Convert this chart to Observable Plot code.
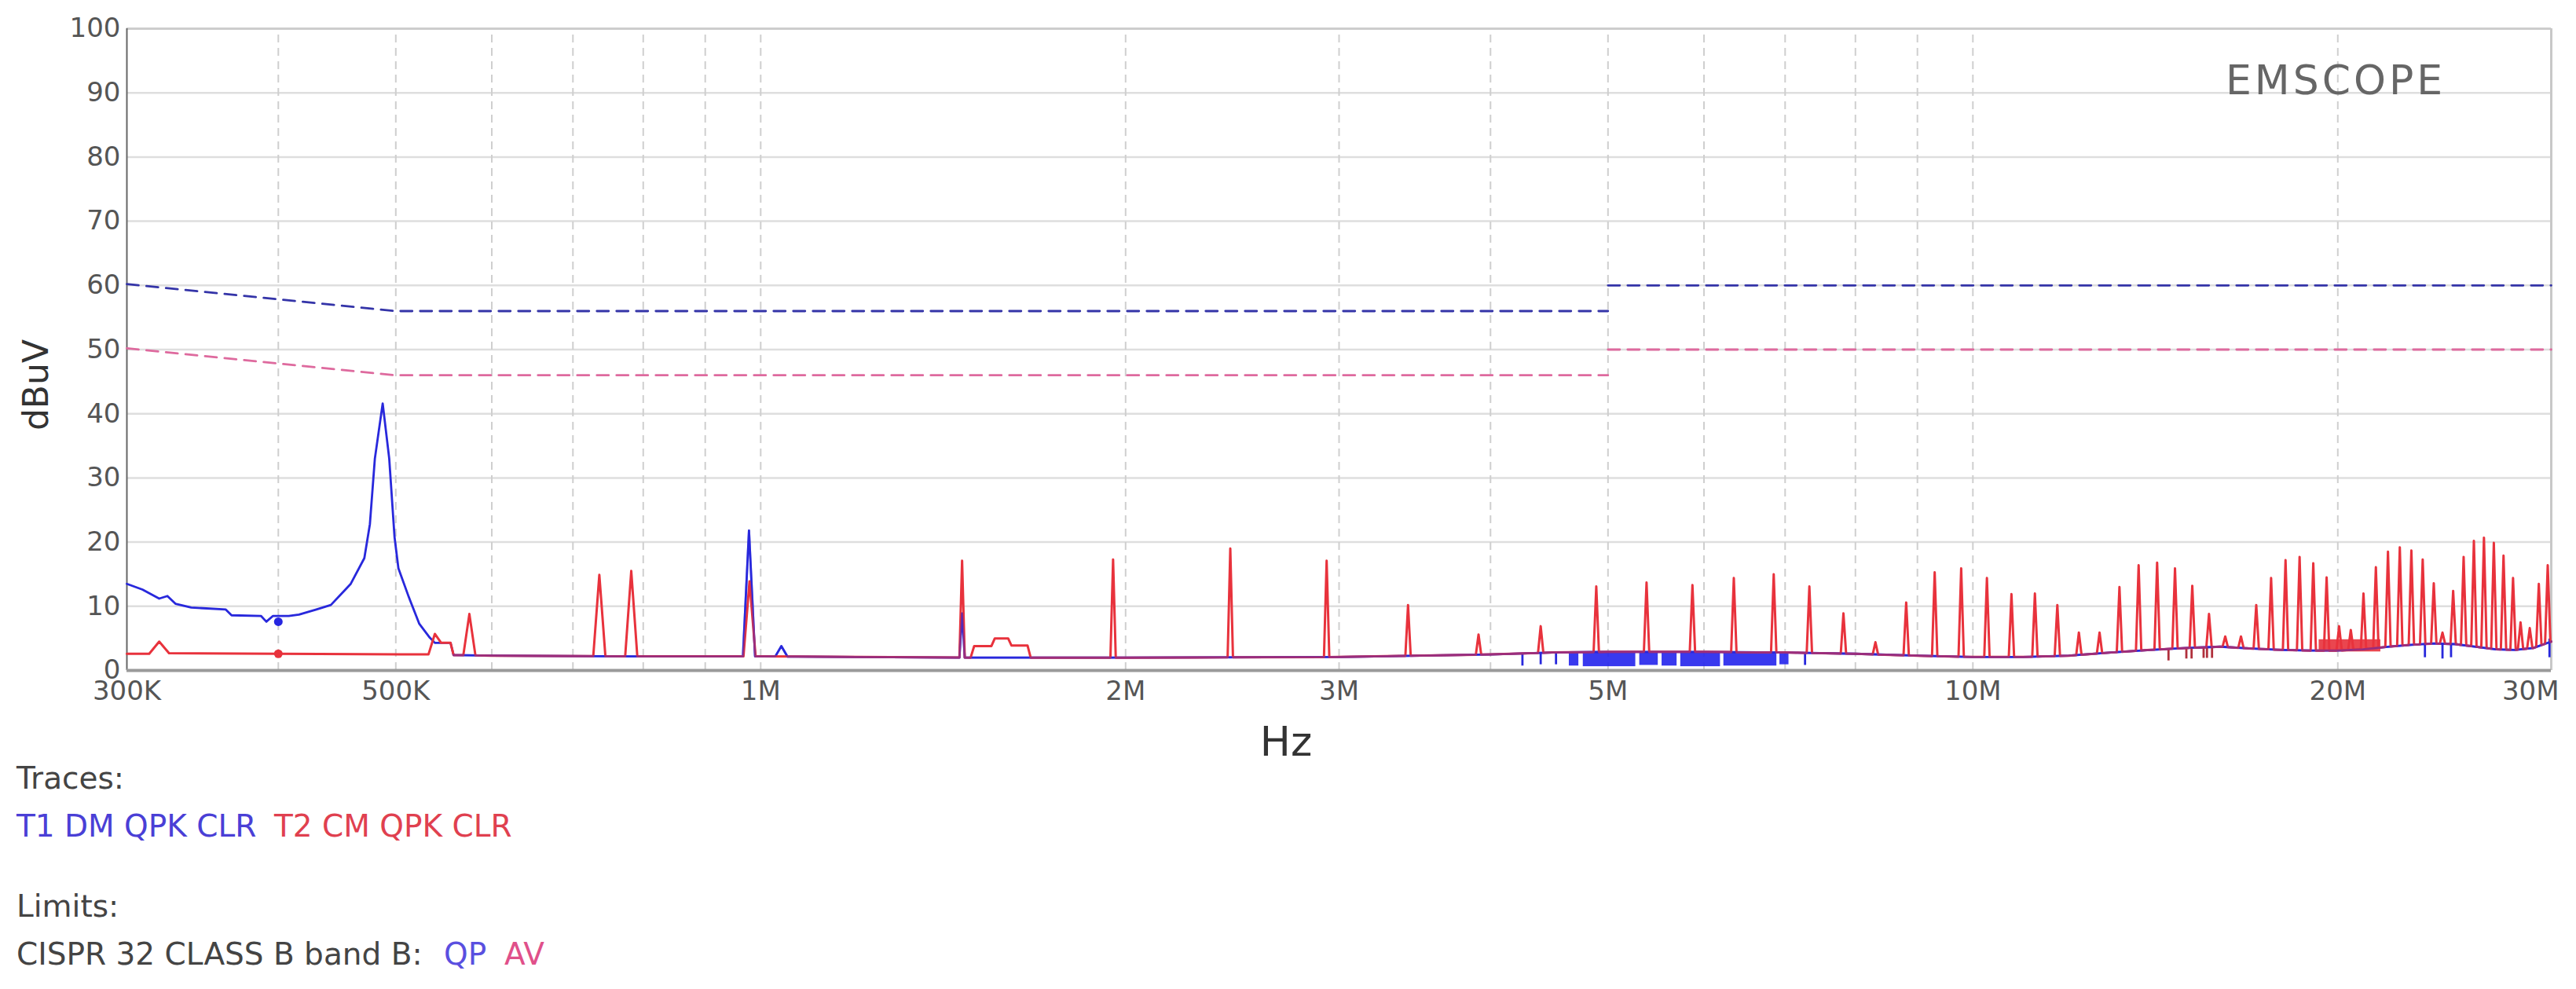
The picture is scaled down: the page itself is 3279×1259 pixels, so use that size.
<!DOCTYPE html>
<html><head><meta charset="utf-8">
<script src="https://cdn.jsdelivr.net/npm/d3@7"></script>
<script src="https://cdn.jsdelivr.net/npm/@observablehq/plot@0.6"></script>
<style>
body{margin:0;background:#fff;font-family:"DejaVu Sans",sans-serif;}
#wrap{position:relative;width:3279px;height:1259px;overflow:hidden;background:#fff;}
.t{position:absolute;white-space:nowrap;line-height:1;}
</style></head><body><div id="wrap"></div>
<script>
// ---------- axis ticks (frequency in MHz) ----------
const xTickValues = [0.3,0.5,0.7,1,2,3,5,7,10,20,30];
const xTickLabels = ["300K","500K","700K","1M","2M","3M","5M","7M","10M","20M","30M"];
const xGridValues = [0.4,0.5,0.6,0.7,0.8,0.9,1,2,3,4,5,6,7,8,9,10,20];
const yTickValues = [0,10,20,30,40,50,60,70,80,90,100];

// ---------- limits: CISPR 32 class B (segment id splits the step at 5 MHz) ----------
const qpFreq  = [0.3, 0.5, 5, 5, 30];
const qpLevel = [60.2, 56, 56, 60, 60];
const qpSeg   = [0, 0, 0, 1, 1];
const avFreq  = [0.3, 0.5, 5, 5, 30];
const avLevel = [50.2, 46, 46, 50, 50];
const avSeg   = [0, 0, 0, 1, 1];

// ---------- common noise floor (both traces) ----------
const baseFreq  = [0.558,0.6,0.8,1.0,1.2,1.5,2.0,3.0,4.0,4.5,5,6,7,8,9,10,11,12,13,14,15,16,17,18,19,20,21,22,23,24,25,26,27,28,29,30];
const baseLevel = [2.4,2.3,2.2,2.2,2.1,2.0,2.0,2.1,2.5,2.8,2.9,2.9,2.8,2.6,2.3,2.1,2.1,2.3,2.8,3.2,3.5,3.7,3.4,3.2,3.1,3.1,3.3,3.7,4.0,4.2,4.1,3.7,3.3,3.2,3.5,4.5];

// ---------- T1 DM QPK CLR (blue) ----------
const t1StartFreq  = [0.300,0.309,0.319,0.324,0.329,0.339,0.362,0.366,0.387,0.391,0.396,0.408,0.416,0.430,0.442,0.459,0.471,0.476,0.4805,0.4877,0.4938,0.4988,0.5025,0.5126,0.5227,0.5334,0.5385,0.5548];
const t1StartLevel = [13.5,12.6,11.2,11.6,10.4,9.8,9.5,8.6,8.5,7.6,8.5,8.5,8.7,9.5,10.2,13.5,17.5,22.8,33.0,41.6,33.0,20.8,15.9,11.4,7.3,5.1,4.3,4.3];
const t1SpikeFreq  = [0.978, 1.04, 1.466];
const t1SpikeLevel = [21.8, 3.8, 8.9];
const blueTickFreq = [4.25, 4.40, 4.53, 7.27, 23.6, 24.4, 24.8, 29.9];
const blueTickLow  = [0.7, 0.9, 0.9, 0.8, 2.0, 1.8, 2.0, 2.0];
const blueTickHigh = [2.7, 2.7, 2.7, 2.8, 4.2, 4.1, 4.1, 4.9];
const blueBandStart = [4.645, 4.77, 5.31, 5.54, 5.74, 6.23, 6.93];
const blueBandEnd   = [4.73, 5.27, 5.50, 5.70, 6.19, 6.89, 7.05];
const blueBandLow   = [0.7, 0.6, 0.8, 0.7, 0.6, 0.7, 0.9];
const blueBandHigh  = [2.8, 2.8, 2.8, 2.8, 2.8, 2.8, 2.8];

// ---------- T2 CM QPK CLR (red) ----------
const t2StartFreq  = [0.300,0.313,0.319,0.325,0.400,0.532,0.5385,0.545,0.5548];
const t2StartLevel = [2.6,2.6,4.5,2.7,2.6,2.5,5.7,4.3,4.3];
const t2StepFreq   = [1.49,1.50,1.55,1.56,1.60,1.61,1.66,1.67];
const t2StepLevel  = [2.0,3.8,3.8,5.0,5.0,3.9,3.9,2.0];
const t2SpikeFreq  = [0.575,0.736,0.782,0.979,1.466,1.953,2.44,2.93,3.42,3.91,4.40,4.89,5.38,5.87,6.35,6.85,7.33,7.82,8.31,8.81,9.30,9.78,10.27,10.76,11.25,11.74,12.23,12.72,13.21,13.70,14.19,14.68,15.17,15.66,16.15,16.64,17.13,17.62,18.11,18.60,19.09,19.58,20.05,20.5,21.0,21.5,22.0,22.5,23.0,23.5,24.0,24.4,24.9,25.4,25.9,26.4,26.9,27.4,27.9,28.3,28.8,29.3,29.8];
const t2SpikeLevel = [8.8,14.9,15.5,13.9,17.1,17.3,19.0,17.1,10.2,5.6,6.9,13.1,13.7,13.3,14.4,15.0,13.1,8.9,4.4,10.6,15.3,15.9,14.4,11.9,12.0,10.2,5.9,5.9,13.0,16.4,16.8,15.9,13.2,8.8,5.3,5.3,10.2,14.4,17.2,17.7,16.7,14.5,6.9,6.3,12.0,16.1,18.5,19.2,18.7,17.3,13.6,5.9,12.4,17.7,20.2,20.7,19.9,17.9,14.4,7.5,6.6,13.5,16.4];
const redTickFreq = [14.5, 15.0, 15.15, 15.5, 15.6, 15.75];
const redTickLow  = [1.5, 1.8, 1.8, 1.9, 1.9, 1.9];
const redTickHigh = [3.3, 3.5, 3.5, 3.6, 3.6, 3.6];
const redBandStart = [19.3];
const redBandEnd   = [21.7];
const redBandLow   = [2.9];
const redBandHigh  = [4.8];

// ---------- markers ----------
const markerFreq  = [0.4, 0.4];
const markerLevel = [7.6, 2.6];
const markerColor = ["#2626e0", "#e8323c"];

// ---------- colours ----------
const BLUE = "#2828dc", RED = "#e8323c", QP = "#3434a8", AV = "#de6a9e";

// ---------- build tables ----------
const zip = (fs, vs) => fs.map((f, i) => ({f, v: vs[i]}));
const base = d3.scaleLog().domain(baseFreq).range(baseLevel).clamp(true);
const halfW = f => (f < 1.2 ? 0.005 : 0.0022);
function spikes(fs, vs) {
  const out = [];
  fs.forEach((f, i) => {
    const a = f * Math.pow(10, -halfW(f)), b = f * Math.pow(10, halfW(f));
    out.push({f: a, v: base(a)}, {f, v: vs[i]}, {f: b, v: base(b)});
  });
  return out;
}
function inside(fs, f) {
  return fs.some(s => f > s * Math.pow(10, -halfW(s)) && f < s * Math.pow(10, halfW(s)));
}
const floor = zip(baseFreq, baseLevel);
const t1 = [...zip(t1StartFreq, t1StartLevel),
            ...floor.filter(d => !inside(t1SpikeFreq, d.f)),
            ...spikes(t1SpikeFreq, t1SpikeLevel)].sort((a, b) => a.f - b.f);
const t2 = [...zip(t2StartFreq, t2StartLevel),
            ...floor.filter(d => !inside(t2SpikeFreq, d.f) && !(d.f >= 1.49 && d.f <= 1.67)),
            ...zip(t2StepFreq, t2StepLevel),
            ...spikes(t2SpikeFreq, t2SpikeLevel)].sort((a, b) => a.f - b.f);
const t1Floor = t1.filter(d => d.f >= 0.555);
const qp = qpFreq.map((f, i) => ({f, v: qpLevel[i], s: qpSeg[i]}));
const av = avFreq.map((f, i) => ({f, v: avLevel[i], s: avSeg[i]}));
const blueTicks = blueTickFreq.map((f, i) => ({f, lo: blueTickLow[i], hi: blueTickHigh[i]}));
const redTicks = redTickFreq.map((f, i) => ({f, lo: redTickLow[i], hi: redTickHigh[i]}));
const blueBands = blueBandStart.map((s, i) => ({s, e: blueBandEnd[i], lo: blueBandLow[i], hi: blueBandHigh[i]}));
const redBands = redBandStart.map((s, i) => ({s, e: redBandEnd[i], lo: redBandLow[i], hi: redBandHigh[i]}));
const markers = markerFreq.map((f, i) => ({f, v: markerLevel[i], c: markerColor[i]}));
const xLabel = new Map(xTickValues.map((v, i) => [v, xTickLabels[i]]));
const lastTick = xTickValues[xTickValues.length - 1];

const chart = Plot.plot({
  width: 3279, height: 960,
  marginLeft: 161, marginRight: 32, marginTop: 36, marginBottom: 107,
  x: {type: "log", domain: [0.3, 30]},
  y: {domain: [0, 100]},
  style: {fontFamily: "DejaVu Sans", background: "white", overflow: "visible"},
  marks: [
    Plot.ruleY(yTickValues.filter(v => v > 0 && v < 100), {stroke: "#dedede", strokeWidth: 2.5}),
    Plot.ruleX(xGridValues, {y1: 0, y2: 100, stroke: "#cfcfcf", strokeWidth: 2, strokeDasharray: "10,7"}),
    Plot.ruleY([100], {stroke: "#cdcdcd", strokeWidth: 3}),
    Plot.ruleX([30], {y1: 0, y2: 100, stroke: "#c8c8c8", strokeWidth: 3}),
    Plot.ruleX([0.3], {y1: 0, y2: 100, stroke: "#666", strokeWidth: 2}),
    Plot.ruleY([0], {stroke: "#9a9a9a", strokeWidth: 4}),
    Plot.axisY({ticks: yTickValues, tickSize: 0, tickPadding: 8, fontSize: 34, fill: "#555", label: null}),
    Plot.axisX({ticks: xTickValues.filter(v => v !== lastTick), tickFormat: d => xLabel.get(d), tickSize: 0, tickPadding: 13, fontSize: 34, fill: "#555", label: null}),
    Plot.axisX({ticks: [lastTick], tickFormat: d => xLabel.get(d), tickSize: 0, tickPadding: 13, fontSize: 34, fill: "#555", label: null, textAnchor: "end", dx: 10}),
    Plot.line(qp, {x: "f", y: "v", z: "s", stroke: QP, strokeWidth: 2.8, strokeDasharray: "15,10"}),
    Plot.line(av, {x: "f", y: "v", z: "s", stroke: AV, strokeWidth: 2.8, strokeDasharray: "15,10"}),
    Plot.rect(blueBands, {x1: "s", x2: "e", y1: "lo", y2: "hi", fill: "#2424ec", fillOpacity: 0.9}),
    Plot.ruleX(blueTicks, {x: "f", y1: "lo", y2: "hi", stroke: BLUE, strokeWidth: 2.8}),
    Plot.line(t1, {x: "f", y: "v", stroke: BLUE, strokeWidth: 2.8}),
    Plot.rect(redBands, {x1: "s", x2: "e", y1: "lo", y2: "hi", fill: RED, fillOpacity: 0.9}),
    Plot.ruleX(redTicks, {x: "f", y1: "lo", y2: "hi", stroke: "#b0303c", strokeWidth: 2.8}),
    Plot.line(t2, {x: "f", y: "v", stroke: RED, strokeWidth: 3}),
    Plot.line(t1Floor, {x: "f", y: "v", stroke: BLUE, strokeWidth: 2.8, strokeOpacity: 0.4}),
    Plot.dot(markers, {x: "f", y: "v", fill: "c", r: 5.5})
  ]
});
const wrap = document.getElementById("wrap");
chart.style.position = "absolute"; chart.style.left = "0px"; chart.style.top = "0px";
wrap.appendChild(chart);

function txt(s, left, top, size, color, extra) {
  const d = document.createElement("div");
  d.className = "t"; d.textContent = s;
  d.style.left = left + "px"; d.style.top = top + "px";
  d.style.fontSize = size + "px"; d.style.color = color;
  if (extra) Object.assign(d.style, extra);
  wrap.appendChild(d); return d;
}
txt("EMSCOPE", 2833, 76, 52, "#666", {letterSpacing: "4px"});
txt("Hz", 1637, 918, 52, "#333", {transform: "translateX(-50%)"});
txt("dBuV", 46, 490, 44, "#333", {transform: "translate(-50%,-50%) rotate(-90deg)"});
txt("Traces:", 21, 971, 39, "#444");
txt("T1 DM QPK CLR", 21, 1032, 39, "#4a3fd6");
txt("T2 CM QPK CLR", 349, 1032, 39, "#e0404f");
txt("Limits:", 21, 1134, 39, "#444");
txt("CISPR 32 CLASS B band B:", 21, 1195, 39, "#444");
txt("QP", 565, 1195, 39, "#5a4fe0");
txt("AV", 642, 1195, 39, "#e0508a");
</script></body></html>
